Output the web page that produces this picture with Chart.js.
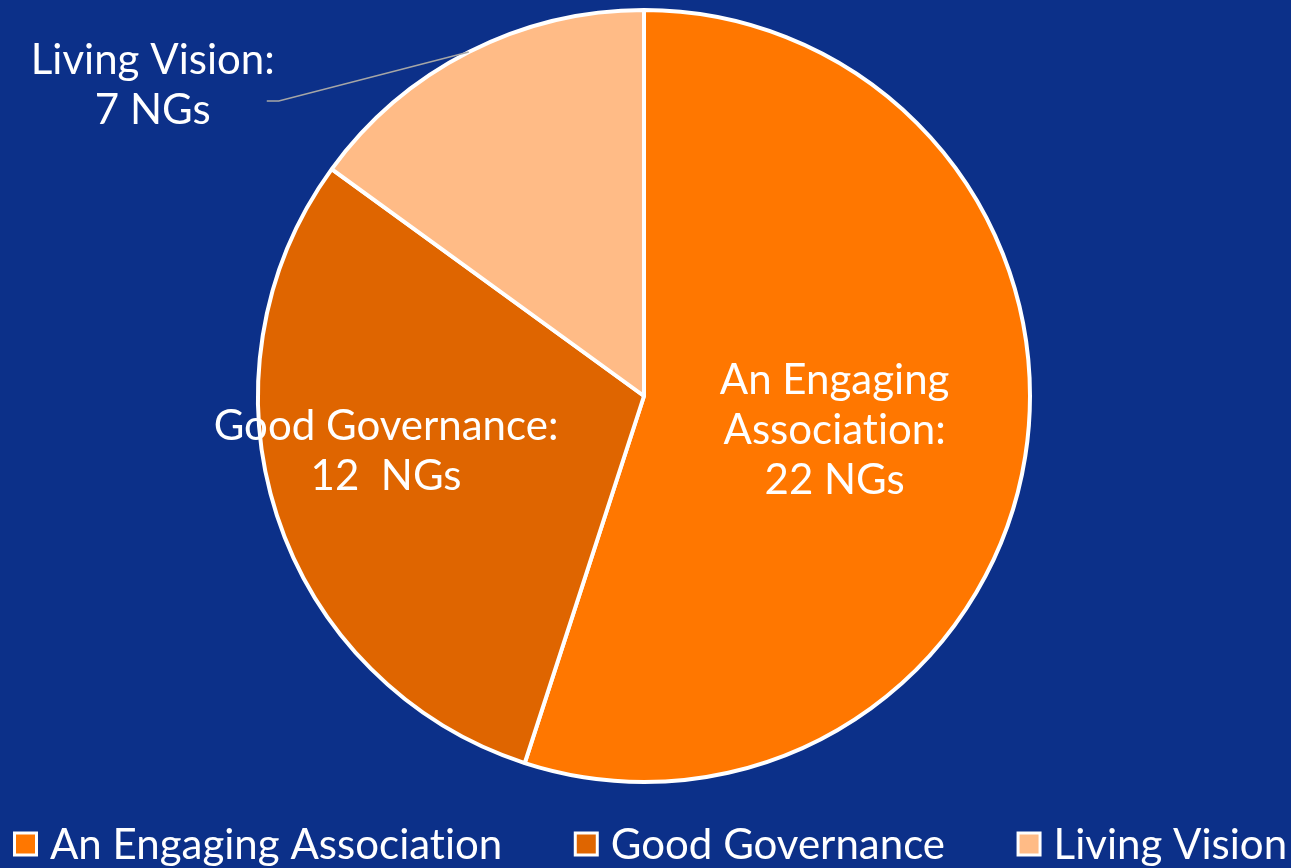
<!DOCTYPE html>
<html lang="en">
<head>
  <meta charset="UTF-8">
  <title>NGs by goal</title>
  <script src="https://cdn.jsdelivr.net/npm/chart.js"></script>
  <style>
    html, body { margin: 0; padding: 0; background: #0c3089; }
    #wrap { width: 1291px; height: 868px; position: relative; }
  </style>
</head>
<body>
  <div id="wrap"><canvas id="chart"></canvas></div>
  <script>
    // data
    const categories = ['An Engaging Association', 'Good Governance', 'Living Vision'];
    const shares = [55, 30, 15];
    const labelLines = [
      ['An Engaging', 'Association:', '22 NGs'],
      ['Good Governance:', '12  NGs'],
      ['Living Vision:', '7 NGs']
    ];

    // styles
    const colors = ['#ff7700', '#df6500', '#ffbb86'];
    const fontFamily = 'Lato, "Open Sans", sans-serif';
    const fontSize = 42;
    // where each data label sits: inside at d * radius along mid angle, or outside with a leader line
    const labelPlace = [
      { d: 0.5, dx: 0, dy: 4 },
      { d: 0.7, dx: -1, dy: -28 },
      { outside: true, elbow: [-190, 49], end: [-202, 49], text: [-316, 33] }
    ];

    function setFont(ctx) {
      ctx.font = fontSize + 'px ' + fontFamily;
      // tiny spacing keeps the "ti" ligature from forming
      if ('letterSpacing' in ctx) ctx.letterSpacing = '0.01px';
    }

    const dataLabels = {
      id: 'dataLabels',
      afterDatasetsDraw(chart) {
        const ctx = chart.ctx;
        const arcs = chart.getDatasetMeta(0).data;
        ctx.save();
        setFont(ctx);
        ctx.fillStyle = '#ffffff';
        ctx.textAlign = 'center';
        ctx.textBaseline = 'middle';
        arcs.forEach((arc, i) => {
          const p = arc.getProps(['x', 'y', 'startAngle', 'endAngle', 'outerRadius'], true);
          const mid = (p.startAngle + p.endAngle) / 2;
          const place = labelPlace[i];
          let cx, cy;
          if (place.outside) {
            const ex = p.x + Math.cos(mid) * p.outerRadius;
            const ey = p.y + Math.sin(mid) * p.outerRadius;
            ctx.strokeStyle = '#a6a6a6';
            ctx.lineWidth = 1.5;
            ctx.beginPath();
            ctx.moveTo(ex, ey);
            ctx.lineTo(ex + place.elbow[0], ey + place.elbow[1]);
            ctx.lineTo(ex + place.end[0], ey + place.end[1]);
            ctx.stroke();
            cx = ex + place.text[0];
            cy = ey + place.text[1];
          } else {
            const r = p.outerRadius * place.d;
            cx = p.x + Math.cos(mid) * r + place.dx;
            cy = p.y + Math.sin(mid) * r + place.dy;
          }
          const lines = labelLines[i];
          const lh = 50;
          const top = cy - (lines.length - 1) * lh / 2;
          lines.forEach((t, k) => ctx.fillText(t, cx, top + k * lh));
        });
        ctx.restore();
      }
    };

    const bottomLegend = {
      id: 'bottomLegend',
      afterDraw(chart) {
        const ctx = chart.ctx;
        const box = 22, boxGap = 13.5, itemGap = 73, y = 844, startX = 14.5;
        ctx.save();
        setFont(ctx);
        ctx.textBaseline = 'middle';
        ctx.textAlign = 'left';
        let x = startX;
        categories.forEach((c, i) => {
          ctx.fillStyle = colors[i];
          ctx.fillRect(x, y - box / 2, box, box);
          ctx.strokeStyle = '#ffffff';
          ctx.lineWidth = 3;
          ctx.strokeRect(x, y - box / 2, box, box);
          ctx.fillStyle = '#ffffff';
          ctx.fillText(c, x + box + boxGap, y + 1);
          x += box + boxGap + ctx.measureText(c).width + itemGap;
        });
        ctx.restore();
      }
    };

    const ctx = document.getElementById('chart').getContext('2d');
    new Chart(ctx, {
      type: 'pie',
      data: {
        labels: categories,
        datasets: [{
          data: shares,
          backgroundColor: colors,
          borderColor: '#ffffff',
          borderWidth: 4,
          hoverOffset: 0
        }]
      },
      options: {
        responsive: true,
        maintainAspectRatio: false,
        animation: false,
        radius: 386,
        layout: { padding: { top: 0, left: 0, right: 3, bottom: 76 } },
        plugins: {
          legend: { display: false },
          tooltip: { enabled: false }
        }
      },
      plugins: [dataLabels, bottomLegend]
    });
  </script>
</body>
</html>
